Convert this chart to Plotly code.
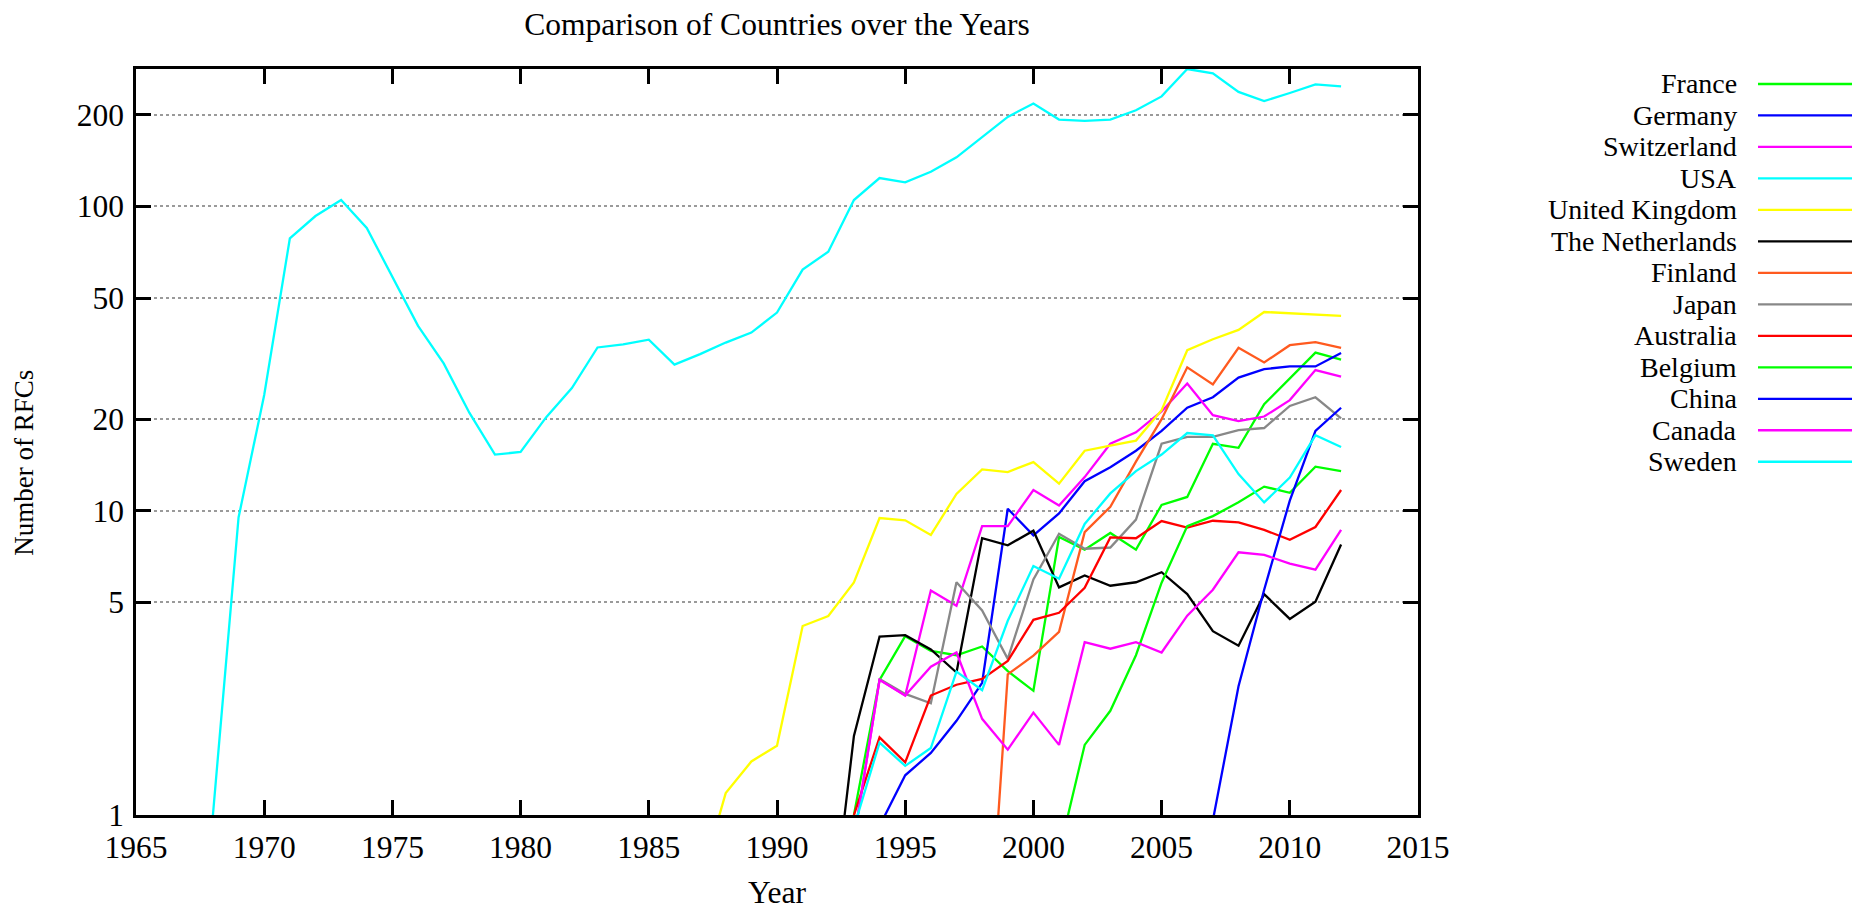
import plotly.graph_objects as go
import math

# ---------------- data ----------------
countries = ["France", "Germany", "Switzerland", "USA", "United Kingdom",
             "The Netherlands", "Finland", "Japan", "Australia", "Belgium",
             "China", "Canada", "Sweden"]

france_start = 1993
france = [1.0, 2.78, 3.87, 3.46, 3.35, 3.58, 2.97, 2.56, 8.2, 7.45, 8.45, 7.45,
          10.45, 11.1, 16.6, 16.1, 22.4, 27.2, 33.1, 31.4]

germany_start = 1994
germany = [0.92, 1.35, 1.6, 2.04, 2.72, 10.15, 8.3, 9.8, 12.5, 13.9, 15.75,
           18.3, 21.8, 23.6, 27.4, 29.2, 29.8, 29.8, 33.0]

switzerland_start = 1993
switzerland = [0.83, 2.78, 2.47, 5.47, 4.87, 8.9, 8.9, 11.7, 10.4, 12.9, 16.6,
               18.1, 21.2, 26.2, 20.6, 19.7, 20.4, 23.1, 29.0, 27.6]

usa_start = 1968
usa = [1.0, 9.5, 24, 78.5, 93, 105, 85, 59, 40.5, 30.5, 21, 15.3, 15.6, 20.3,
       25.3, 34.4, 35.2, 36.5, 30.2, 32.7, 35.7, 38.5, 44.8, 62, 71, 105, 124,
       120, 130, 145, 169, 197, 218, 193, 191, 193, 207, 230, 283, 274, 238,
       222, 236, 252, 248]

uk_start = 1987
uk = [0.6, 1.18, 1.5, 1.69, 4.18, 4.51, 5.81, 9.46, 9.3, 8.33, 11.35, 13.67,
      13.4, 14.45, 12.27, 15.75, 16.37, 17.0, 21.4, 33.7, 36.6, 39.3, 45.0,
      44.6, 44.3, 43.7]

netherlands_start = 1992
netherlands = [0.35, 1.82, 3.86, 3.9, 3.5, 2.94, 8.13, 7.7, 8.6, 5.6, 6.13,
               5.67, 5.82, 6.28, 5.32, 4.02, 3.6, 5.32, 4.41, 5.02, 7.75]

finland_start = 1998
finland = [0.16, 2.9, 3.34, 4.0, 8.5, 10.3, 14.5, 20, 29.6, 26, 34.3, 30.7,
           35, 35.8, 34.3]

japan_start = 1994
japan = [2.8, 2.5, 2.33, 5.82, 4.7, 3.26, 5.95, 8.4, 7.5, 7.57, 9.35, 16.6,
         17.5, 17.5, 18.4, 18.7, 22.1, 23.6, 20.1]

australia_start = 1993
australia = [1.0, 1.8, 1.49, 2.47, 2.68, 2.8, 3.21, 4.38, 4.62, 5.58, 8.17,
             8.12, 9.25, 8.8, 9.27, 9.16, 8.65, 8.03, 8.84, 11.7]

belgium_start = 2001
belgium = [0.75, 1.7, 2.2, 3.35, 5.8, 8.9, 9.6, 10.66, 12.0, 11.45, 13.95, 13.5]

china_start = 2007
china = [0.96, 2.65, 5.5, 10.8, 18.3, 21.8]

canada_start = 1993
canada = [0.83, 2.78, 2.47, 3.07, 3.42, 2.07, 1.64, 2.17, 1.7, 3.7, 3.52, 3.7,
          3.42, 4.52, 5.5, 7.3, 7.16, 6.7, 6.4, 8.65]

sweden_start = 1993
sweden = [0.91, 1.73, 1.45, 1.66, 2.96, 2.57, 4.35, 6.58, 5.98, 9.05, 11.4,
          13.5, 15.3, 18.0, 17.7, 13.2, 10.65, 12.85, 17.7, 16.2]

y_tick_values = [1, 5, 10, 20, 50, 100, 200]
x_tick_values = [1965, 1970, 1975, 1980, 1985, 1990, 1995, 2000, 2005, 2010, 2015]
x_range = [1965, 2015]
y_range = [1, 283]

series = [
    (france_start, france), (germany_start, germany),
    (switzerland_start, switzerland), (usa_start, usa), (uk_start, uk),
    (netherlands_start, netherlands), (finland_start, finland),
    (japan_start, japan), (australia_start, australia),
    (belgium_start, belgium), (china_start, china), (canada_start, canada),
    (sweden_start, sweden),
]

# ---------------- styling ----------------
colors = ["#00ff00", "#0000ff", "#ff00ff", "#00ffff", "#ffff00", "#000000",
          "#ff5a1f", "#888888", "#ff0000", "#00ff00", "#0000ff", "#ff00ff",
          "#00ffff"]

W, H = 1853, 909
PL, PR, PT, PB = 136, 1418, 69, 815.5   # plot area in pixels
FONT = "Liberation Serif, Times New Roman, serif"
FS = 31.5
FS_KEY = 28

def px_to_paper_x(px):
    return (px - PL) / (PR - PL)

def px_to_paper_y(py):
    return (PB - py) / (PB - PT)

fig = go.Figure()
for name, (start, vals), col in zip(countries, series, colors):
    years = list(range(start, start + len(vals)))
    fig.add_trace(go.Scatter(x=years, y=vals, mode="lines", name=name,
                             line=dict(color=col, width=2.3),
                             showlegend=False))

# legend drawn gnuplot-style: right-aligned names, samples to the right
annotations = []
shapes = []
row0, row_step = 84, 31.5
for i, (name, col) in enumerate(zip(countries, colors)):
    yy = px_to_paper_y(row0 + i * row_step)
    annotations.append(dict(x=px_to_paper_x(1738), y=yy, xref="paper", yref="paper",
                            text=name, showarrow=False, xanchor="right",
                            yanchor="middle", borderpad=0,
                            font=dict(family=FONT, size=FS_KEY, color="black")))
    shapes.append(dict(type="line", xref="paper", yref="paper",
                       x0=px_to_paper_x(1758), x1=px_to_paper_x(1852),
                       y0=yy, y1=yy, line=dict(color=col, width=2.3)))

annotations.append(dict(x=px_to_paper_x(PL + (PR - PL) / 2), y=px_to_paper_y(893),
                        xref="paper", yref="paper", text="Year", showarrow=False,
                        xanchor="center", yanchor="middle",
                        font=dict(family=FONT, size=FS, color="black")))
annotations.append(dict(x=px_to_paper_x(24), y=px_to_paper_y(463),
                        xref="paper", yref="paper",
                        text="Number of RFCs", showarrow=False, textangle=-90,
                        xanchor="center", yanchor="middle",
                        font=dict(family=FONT, size=27, color="black")))

fig.update_layout(
    width=W, height=H,
    margin=dict(l=PL, r=W - PR, t=PT, b=H - PB, pad=0),
    paper_bgcolor="white", plot_bgcolor="white",
    font=dict(family=FONT, size=FS, color="black"),
    title=dict(text="Comparison of Countries over the Years",
               x=0.5, xref="paper", xanchor="center",
               y=1 - 24 / H, yref="container", yanchor="middle",
               font=dict(family=FONT, size=FS, color="black")),
    annotations=annotations, shapes=shapes,
    showlegend=False,
)

fig.update_xaxes(range=x_range, tickvals=x_tick_values,
                 ticktext=[str(v) for v in x_tick_values],
                 showgrid=False, zeroline=False,
                 showline=True, linecolor="black", linewidth=2.5, mirror="ticks",
                 ticks="inside", ticklen=15, tickwidth=2.5, tickcolor="black",
                 ticklabelstandoff=2,
                 tickfont=dict(family=FONT, size=FS, color="black"))

fig.update_yaxes(type="log", range=[math.log10(y_range[0]), math.log10(y_range[1])],
                 tickvals=y_tick_values, ticktext=[str(v) for v in y_tick_values],
                 showgrid=True, gridcolor="#9a9a9a", gridwidth=1.5, griddash="dot",
                 zeroline=False,
                 showline=True, linecolor="black", linewidth=2.5, mirror="ticks",
                 ticks="inside", ticklen=15, tickwidth=2.5, tickcolor="black",
                 ticklabelstandoff=3,
                 tickfont=dict(family=FONT, size=FS, color="black"))

fig.write_html(
    "out.html",
    config={"displayModeBar": False},
    post_script="document.body.style.margin='0px';"
                "document.body.style.padding='0px';"
                "document.body.style.overflow='hidden';",
)
